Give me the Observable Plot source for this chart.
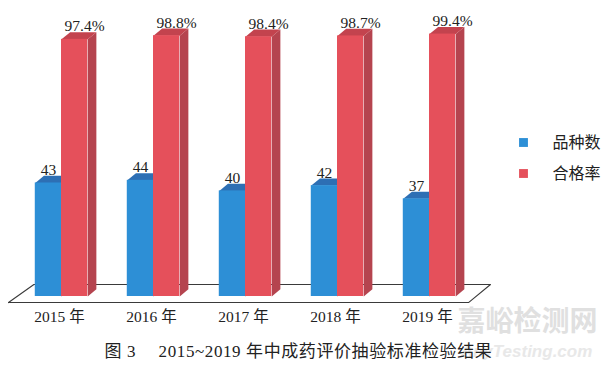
<!DOCTYPE html>
<html>
<head>
<meta charset="utf-8">
<script src="https://cdn.jsdelivr.net/npm/d3@7"></script>
<script src="https://cdn.jsdelivr.net/npm/@observablehq/plot@0.6"></script>
<style>
  html, body { margin: 0; padding: 0; background: #fff; }
</style>
</head>
<body>
<div id="chart"></div>
<script>
// ---- data ----
const years = ["2015 年", "2016 年", "2017 年", "2018 年", "2019 年"];
const counts = [43, 44, 40, 42, 37];
const rates = [97.4, 98.8, 98.4, 98.7, 99.4];
const rateLabels = ["97.4%", "98.8%", "98.4%", "98.7%", "99.4%"];
const seriesNames = ["品种数", "合格率"];
const caption = "图 3\u2003 2015~2019 年中成药评价抽验标准检验结果";
const watermark = ["嘉峪检测网", "AnyTesting.com"];

// ---- styling / geometry (data units) ----
const blue = {front: "#2d8fd6", top: "#2d6fb4", side: "#2468a8"};
const red = {front: "#e5505b", top: "#c3434e", side: "#b5444f"};
const W = 0.285;   // bar width
const DX = 0.094;  // 3D depth, x
const DY = 2.7;    // 3D depth, y

const bars = years.flatMap((y, i) => [
  {i, s: 0, v: counts[i], x1: i - W, x2: i, label: String(counts[i])},
  {i, s: 1, v: rates[i], x1: i, x2: i + W, label: rateLabels[i]}
]);

function poly(b, face) {
  const pts = face === "top"
    ? [[b.x1, b.v], [b.x1 + DX, b.v + DY], [b.x2 + DX, b.v + DY], [b.x2, b.v], [b.x1, b.v]]
    : [[b.x2, 0], [b.x2, b.v], [b.x2 + DX, b.v + DY], [b.x2 + DX, DY], [b.x2, 0]];
  return pts.map(([x, y]) => ({x, y, id: `${b.i}-${b.s}-${face}`}));
}

const n = years.length;
const floorFront = -2.3, floorBack = 4.55;
const floor = [
  {x: -0.576, y: floorFront}, {x: n - 1 + 0.424, y: floorFront},
  {x: n - 1 + 0.663, y: floorBack}, {x: -0.30, y: floorBack}, {x: -0.576, y: floorFront}
];

const marks = [
  Plot.line(floor, {x: "x", y: "y", fill: "white", stroke: "#3a3a3a", strokeWidth: 1.1})
];
[[0, blue], [1, red]].forEach(([s, c]) => {
  const bs = bars.filter(d => d.s === s);
  marks.push(
    Plot.line(bs.flatMap(b => poly(b, "side")), {x: "x", y: "y", z: "id", fill: c.side, stroke: "none"}),
    Plot.line(bs.flatMap(b => poly(b, "top")), {x: "x", y: "y", z: "id", fill: c.top, stroke: "none"}),
    Plot.rect(bs, {x1: "x1", x2: "x2", y1: d => 0, y2: "v", fill: c.front})
  );
});

// value labels
marks.push(
  Plot.text(bars.filter(d => d.s === 0), {x: d => (d.x1 + d.x2) / 2, y: "v", text: "label", lineAnchor: "bottom", dy: -8, fontSize: 15.5, fill: "#222"}),
  Plot.text(bars.filter(d => d.s === 1), {x: d => (d.x1 + d.x2) / 2, y: "v", text: "label", lineAnchor: "bottom", dy: -8, dx: 10, fontSize: 15.5, fill: "#222"})
);

// category labels
marks.push(
  Plot.text(years, {x: (d, i) => i, text: d => d, frameAnchor: "bottom", dy: 25, dx: -2, fontSize: 15.5, fill: "#222"})
);

// legend
const legColors = [blue.front, red.front];
seriesNames.forEach((name, k) => {
  const dy = k === 0 ? -22 : 9;
  marks.push(
    Plot.dot([name], {frameAnchor: "right", dx: 94, dy, symbol: "square", r: 5, fill: legColors[k], stroke: "none"}),
    Plot.text([name], {frameAnchor: "right", dx: 123, dy, text: d => d, textAnchor: "start", fontSize: 16, fill: "#222", fontFamily: "'Noto Sans CJK SC', sans-serif"})
  );
});

// watermark
marks.push(
  Plot.text([watermark[0]], {frameAnchor: "bottom", dx: 282, dy: 34, text: d => d, fontSize: 28, fontWeight: "bold", fill: "#e0e0e0", fontFamily: "'Noto Sans CJK SC', sans-serif"}),
  Plot.text([watermark[1]], {frameAnchor: "bottom", dx: 281, dy: 60, text: d => d, fontSize: 17, fontWeight: "bold", fontStyle: "italic", fill: "#e8e8e8", fontFamily: "'Liberation Sans', sans-serif"})
);

// caption
marks.push(
  Plot.text([caption], {frameAnchor: "bottom", dx: 53, dy: 60, text: d => d, fontSize: 17, fill: "#222"})
);

const chart = Plot.plot({
  width: 609,
  height: 373,
  marginLeft: 61,
  marginRight: 180,
  marginTop: 32,
  marginBottom: 77,
  x: {domain: [0, n - 1], axis: null},
  y: {domain: [0, 100], axis: null},
  style: {fontFamily: "'Liberation Serif', 'Noto Sans CJK SC', serif", fontSize: "15px", background: "white", color: "#222"},
  marks
});
d3.select(chart).selectAll("text")
  .filter(function () { return this.textContent === caption; })
  .style("letter-spacing", "0.6px");
document.getElementById("chart").appendChild(chart);
</script>
</body>
</html>
